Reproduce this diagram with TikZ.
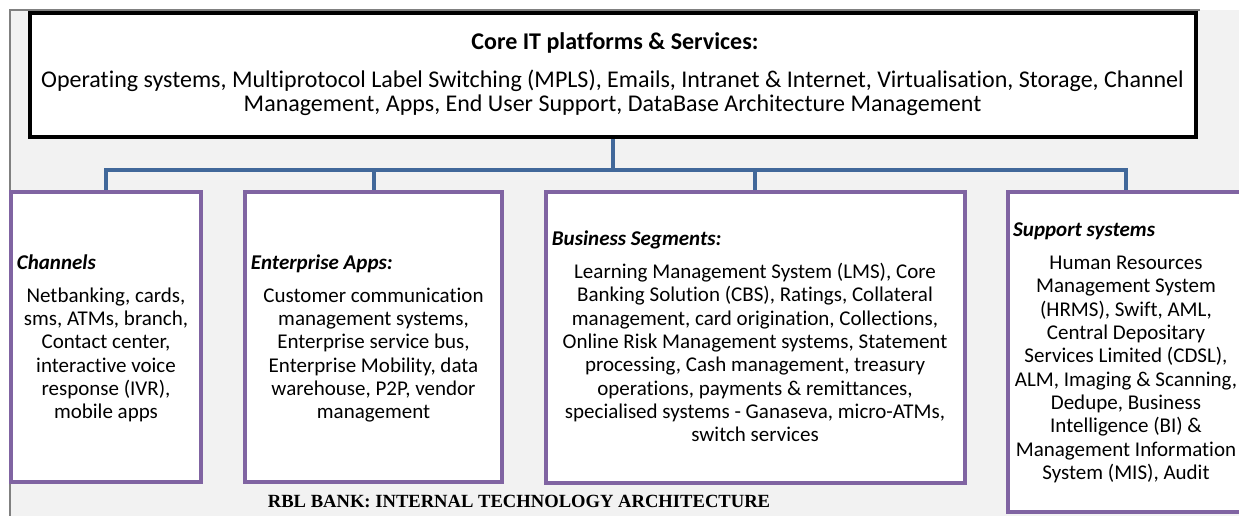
\documentclass[tikz,border=0pt]{standalone}
\usepackage{fontspec}
\setmainfont{Carlito}[Ligatures=NoCommon]
\newfontfamily\capfont{Liberation Serif}
\definecolor{purp}{HTML}{8064A2}
\definecolor{connblue}{HTML}{41689A}
\definecolor{bgc}{HTML}{F2F2F2}
\definecolor{edgegray}{HTML}{808080}
\pgfdeclarelayer{bg}
\pgfsetlayers{bg,main}
\begin{document}
\begin{tikzpicture}[x=1pt,y=-1pt,
  box/.style={draw=purp, line width=4pt, fill=white, inner sep=0pt, outer sep=0pt, anchor=north west},
  corebox/.style={draw=black, line width=4pt, fill=white, inner sep=0pt, outer sep=0pt, anchor=north west},
  conn/.style={draw=connblue, line width=4pt},
  body/.style={font=\fontsize{21}{23.35}\selectfont, align=center, anchor=base, inner sep=0pt},
  head/.style={font=\fontsize{21}{23.35}\selectfont\bfseries\itshape, anchor=base west, inner sep=0pt}]
\useasboundingbox (0,0) rectangle (1239,516);
\begin{pgfonlayer}{bg}
  \fill[bgc] (10,10) rectangle (1239,516);
  \draw[edgegray, line width=1.5pt] (1200,10) -- (10,10) -- (10,516);
\end{pgfonlayer}

% boxes
\node[corebox, minimum width=1166pt, minimum height=124pt] (core) at (30,13) {};
\node[box, minimum width=190.5pt, minimum height=289.5pt] (chan) at (10.5,192) {};
\node[box, minimum width=257pt, minimum height=289.5pt] (ent) at (245,192) {};
\node[box, minimum width=418.5pt, minimum height=291pt] (bus) at (546,192) {};
\node[box, minimum width=236pt, minimum height=320pt] (sup) at (1008,192) {};

% connectors
\coordinate (hub) at (core.south |- 0,170);
\begin{pgfonlayer}{bg}
  \draw[conn] (core.south) -- (hub);
  \draw[conn] (hub) -| (chan.north);
  \draw[conn] (hub) -| (ent.north);
  \draw[conn] (hub) -| (bus.north);
  \draw[conn] (hub) -| (sup.north);
\end{pgfonlayer}

% texts (base anchor = baseline of the last line)
\node[font=\fontsize{24}{24.4}\selectfont\bfseries, anchor=base, inner sep=0pt] (coretitle) at (615,50) {Core IT platforms \& Services:};
\node[body, font=\fontsize{24}{24.4}\selectfont] (corebody) at (612.5,111.7) {Operating systems, Multiprotocol Label Switching (MPLS), Emails, Intranet \& Internet, Virtualisation, Storage, Channel\\Management, Apps, End User Support, DataBase Architecture Management};

\node[head] (chantitle) at (16.7,269) {Channels};
\node[body] (chanbody) at (106,418.75) {Netbanking, cards,\\sms, ATMs, branch,\\Contact center,\\interactive voice\\response (IVR),\\mobile apps};

\node[head] (enttitle) at (250.7,269) {Enterprise Apps:};
\node[body] (entbody) at (373.5,418.75) {Customer communication\\management systems,\\Enterprise service bus,\\Enterprise Mobility, data\\warehouse, P2P, vendor\\management};

\node[head] (bustitle) at (551.7,245) {Business Segments:};
\node[body] (busbody) at (755,441.75) {Learning Management System (LMS), Core\\Banking Solution (CBS), Ratings, Collateral\\management, card origination, Collections,\\Online Risk Management systems, Statement\\processing, Cash management, treasury\\operations, payments \& remittances,\\specialised systems - Ganaseva, micro-ATMs,\\switch services};

\node[head] (suptitle) at (1013,236.7) {Support systems};
\node[body] (supbody) at (1126,479.45) {Human Resources\\Management System\\(HRMS), Swift, AML,\\Central Depositary\\Services Limited (CDSL),\\ALM, Imaging \& Scanning,\\Dedupe, Business\\Intelligence (BI) \&\\Management Information\\System (MIS), Audit};

\node[font=\capfont\fontsize{18.6}{20}\selectfont\bfseries, anchor=base, inner sep=0pt] (caption) at (519,507) {RBL BANK: INTERNAL TECHNOLOGY ARCHITECTURE};
\end{tikzpicture}
\end{document}
